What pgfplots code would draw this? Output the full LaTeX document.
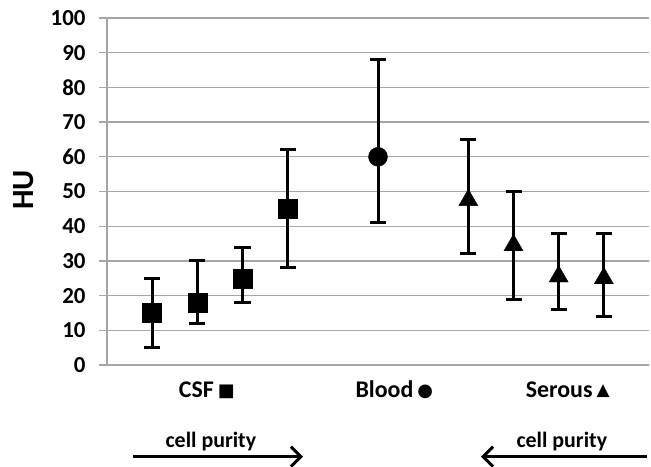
\documentclass[border=0pt]{standalone}
\usepackage{pgfplots}
\pgfplotsset{compat=1.18}
\usetikzlibrary{arrows.meta}
\usepackage{fontspec}
\setmainfont{Carlito}
\newfontfamily\symfont{DejaVu Sans}
\definecolor{gridgray}{RGB}{165,165,165}
\begin{document}
\begin{tikzpicture}
\begin{axis}[
    scale only axis,
    width=542bp, height=347bp,
    xmin=0, xmax=12, ymin=0, ymax=100,
    xtick=\empty,
    ytick={0,10,...,100},
    axis lines*=left,
    axis line style={draw=gridgray, line width=1.3bp},
    ymajorgrids=true,
    grid style={gridgray, line width=1.3bp},
    tick align=outside,
    major tick length=8bp,
    tick style={gridgray, line width=1.3bp},
    /pgf/number format/assume math mode=true,
    yticklabel style={font=\fontsize{23}{27}\selectfont\bfseries, xshift=-10bp},
    ylabel={HU},
    ylabel style={font=\fontsize{31}{35}\selectfont\bfseries,
        at={(axis description cs:-0.154,0.504)}, anchor=center},
    clip=false,
    every error bar/.style={line width=3bp, black},
]
% CSF
\addplot[only marks, mark=square*, mark size=9.5bp, black,
    error bars/.cd, y dir=both, y explicit,
    error mark options={rotate=90, mark size=8bp, line width=3bp, black}]
    table[x=x, y=y, y error plus=ep, y error minus=em] {
x y ep em
1 15 10 10
2 18 12 6
3 25 9 7
4 45 17 17
};
% Blood
\addplot[only marks, mark=*, mark size=9.5bp, black,
    error bars/.cd, y dir=both, y explicit,
    error mark options={rotate=90, mark size=8bp, line width=3bp, black}]
    table[x=x, y=y, y error plus=ep, y error minus=em] {
x y ep em
6 60 28 19
};
% Serous
\addplot[only marks, mark=triangle*, mark size=11bp, black,
    error bars/.cd, y dir=both, y explicit,
    error mark options={rotate=90, mark size=8bp, line width=3bp, black}]
    table[x=x, y=y, y error plus=ep, y error minus=em] {
x y ep em
8 47.5 17.5 15.5
9 34.5 15.5 15.5
10 25.5 12.5 9.5
11 25 13 11
};

\node[font=\fontsize{24}{28}\selectfont\bfseries, anchor=base] at (axis cs:2.21,-9.3)
    {CSF\,\raisebox{1bp}{\symfont\fontsize{18}{20}\selectfont ■}};
\node[font=\fontsize{24}{28}\selectfont\bfseries, anchor=base] at (axis cs:6.36,-9.3)
    {Blood\,\raisebox{1bp}{\symfont\fontsize{18}{20}\selectfont ●}};
\node[font=\fontsize{24}{28}\selectfont\bfseries, anchor=base] at (axis cs:10.2,-9.3)
    {Serous\,\raisebox{2bp}{\symfont\fontsize{17}{20}\selectfont ▲}};

\node[font=\fontsize{22}{26}\selectfont\bfseries, anchor=base] at (axis cs:2.30,-23.9) {cell purity};
\node[font=\fontsize{22}{26}\selectfont\bfseries, anchor=base] at (axis cs:10.07,-23.9) {cell purity};
\draw[line width=3bp, -{Straight Barb[length=10bp,width=20bp,line width=3bp]}]
    (axis cs:0.58,-26.4) -- (axis cs:4.34,-26.4);
\draw[line width=3bp, -{Straight Barb[length=10bp,width=20bp,line width=3bp]}]
    (axis cs:11.96,-26.4) -- (axis cs:8.28,-26.4);
\end{axis}
\pgfresetboundingbox
\path[use as bounding box] (-107bp,-102bp) rectangle (544bp,365bp);
\end{tikzpicture}
\end{document}
